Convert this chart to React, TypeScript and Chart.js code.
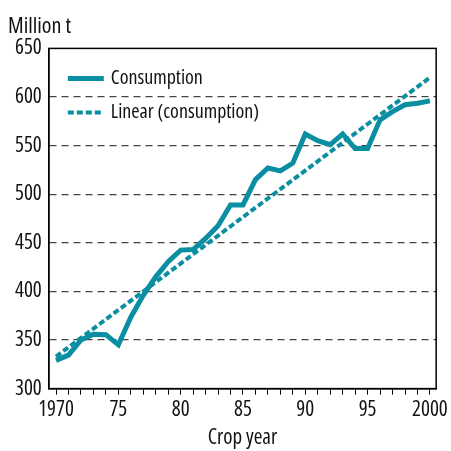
import React, { useEffect, useRef } from "react";
import { Chart, registerables } from "chart.js";

Chart.register(...registerables);

const years = [1970, 1971, 1972, 1973, 1974, 1975, 1976, 1977, 1978, 1979, 1980, 1981, 1982, 1983, 1984, 1985, 1986, 1987, 1988, 1989, 1990, 1991, 1992, 1993, 1994, 1995, 1996, 1997, 1998, 1999, 2000];
const consumption = [329, 334.5, 350, 356, 355.5, 345, 373.5, 396, 415, 430.5, 442.5, 443, 454.5, 467.5, 489, 489, 515, 527, 524, 532, 562, 555, 551, 562, 547, 547, 576.5, 585, 592, 593.5, 596];
const trendYears = [1970, 2000];
const trendValues = [333, 620];
const yTicks = [300, 350, 400, 450, 500, 550, 600, 650];

const TEAL = "#0a8ea2";
const FONT = "'Open Sans', sans-serif";
const STRETCH = "condensed";

const boxAndLegendPlugin = {
  id: "boxAndLegend",
  afterDraw(chart: any) {
    const { ctx, chartArea } = chart;
    ctx.save();
    ctx.strokeStyle = "#000";
    ctx.lineWidth = 1.5;
    ctx.setLineDash([]);
    ctx.strokeRect(chartArea.left, chartArea.top, chartArea.right - chartArea.left, chartArea.bottom - chartArea.top);

    // legend drawn from the datasets' own styles
    const x0 = chartArea.left + 19;
    const rows = [chartArea.top + 30, chartArea.top + 64];
    chart.data.datasets.forEach((ds: any, i: number) => {
      const y = rows[i];
      ctx.beginPath();
      ctx.strokeStyle = ds.borderColor;
      ctx.lineWidth = ds.borderWidth;
      ctx.setLineDash(ds.borderDash || []);
      ctx.moveTo(x0, y);
      ctx.lineTo(x0 + 36, y);
      ctx.stroke();
      ctx.setLineDash([]);
      ctx.fillStyle = "#111";
      ctx.font = `${STRETCH} 20px ${FONT}`;
      ctx.textBaseline = "middle";
      ctx.textAlign = "left";
      ctx.fillText(ds.label, x0 + 43, y);
    });
    ctx.restore();
  },
};

export default function App() {
  const ref = useRef<HTMLCanvasElement>(null);
  useEffect(() => {
    if (!ref.current) return;
    const chart = new Chart(ref.current, {
      type: "line",
      data: {
        datasets: [
          {
            label: "Consumption",
            data: years.map((y, i) => ({ x: y, y: consumption[i] })),
            borderColor: TEAL,
            backgroundColor: TEAL,
            borderWidth: 5,
            pointRadius: 0,
            tension: 0,
            borderJoinStyle: "miter",
          },
          {
            label: "Linear (consumption)",
            data: trendYears.map((y, i) => ({ x: y, y: trendValues[i] })),
            borderColor: TEAL,
            backgroundColor: TEAL,
            borderWidth: 4,
            borderDash: [6, 3],
            pointRadius: 0,
          },
        ],
      },
      options: {
        animation: false,
        responsive: false,
        devicePixelRatio: 1,
        layout: { padding: { left: 8, right: 13, top: 0, bottom: 0 } },
        plugins: {
          tooltip: { enabled: false },
          legend: { display: false },
          title: {
            display: true,
            text: "Million t",
            align: "start",
            color: "#111",
            font: { family: FONT, size: 22, weight: STRETCH },
            padding: { top: 14, bottom: 8 },
          },
        },
        scales: {
          x: {
            type: "linear",
            min: 1969.42,
            max: 2000.5,
            afterBuildTicks: (axis: any) => {
              axis.ticks = years.map((v) => ({ value: v }));
            },
            grid: { drawOnChartArea: false, drawTicks: true, tickLength: 6, color: "#000" },
            border: { display: true, color: "#000", width: 1.5 },
            ticks: {
              autoSkip: false,
              maxRotation: 0,
              color: "#111",
              padding: 3,
              font: { family: FONT, size: 21, weight: STRETCH },
              callback: (v: any) => {
                const n = Number(v);
                if (n % 5 !== 0) return "";
                if (n === 1970 || n === 2000) return String(n);
                return String(n).slice(2);
              },
            },
            title: {
              display: true,
              text: "Crop year",
              color: "#111",
              font: { family: FONT, size: 21, weight: STRETCH },
              padding: { top: 0, bottom: 0 },
            },
          },
          y: {
            min: 300,
            max: 650,
            afterBuildTicks: (axis: any) => {
              axis.ticks = yTicks.map((v) => ({ value: v }));
            },
            grid: {
              drawTicks: false,
              lineWidth: 1.2,
              color: (c: any) => (c.tick && (c.tick.value === 300 || c.tick.value === 650) ? "rgba(0,0,0,0)" : "#444"),
            },
            border: { display: true, color: "#000", width: 1.5, dash: [7, 5] },
            ticks: {
              color: "#111",
              padding: 7,
              font: { family: FONT, size: 21, weight: STRETCH },
            },
          },
        },
      },
      plugins: [boxAndLegendPlugin],
    } as any);
    return () => chart.destroy();
  }, []);
  return (
    <div style={{ position: "fixed", left: 0, top: 0, width: 451, height: 451, background: "#fff" }}>
      <canvas ref={ref} width={451} height={451} style={{ width: 451, height: 451 }} />
    </div>
  );
}
